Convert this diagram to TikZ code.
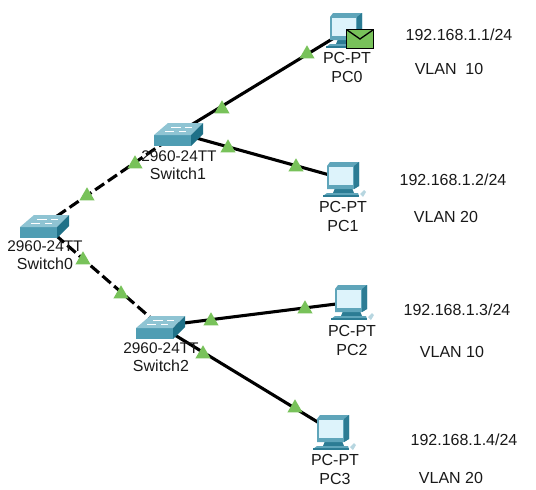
\documentclass[tikz,border=0pt]{standalone}
\usepackage{fontspec}
\setmainfont{Liberation Sans}
\usetikzlibrary{shapes.geometric}

\definecolor{swfront}{HTML}{4F9DB3}
\definecolor{swtop}{HTML}{8FC4D3}
\definecolor{swside}{HTML}{1F7188}
\definecolor{pcbody}{HTML}{5FA5BA}
\definecolor{pcdark}{HTML}{2C7C94}
\definecolor{pcscreen}{HTML}{DDF3FB}
\definecolor{activegreen}{HTML}{78C25A}

\tikzset{
	pics/switchicon/.style={code={
		\fill [swfront] (-24,2) -- (13,2) -- (13,13) -- (-24,13) -- cycle;
		\fill [swtop] (-24,2) -- (-10,-10) -- (25,-10) -- (13,2) -- cycle;
		\fill [swside] (13,2) -- (25,-10) -- (25,1) -- (13,13) -- cycle;
		\draw [white,line width=0.7pt] (-7,-6) -- (3,-6) (7,-6) -- (14,-6) (-13,-2) -- (-4,-2) (1,-2) -- (8,-2);
	}},
	pics/pcicon/.style={code={
		\fill [pcdark] (-9,9) -- (8,9) -- (10,14) -- (-11,14) -- cycle;
		\fill [pcbody] (-17,14) -- (14,14) -- (15,17) -- (-21,17) -- cycle;
		\fill [pcdark] (-21,16) rectangle (15,18);
		\fill [pcbody] (-17,-13) -- (-14,-17) -- (15,-17) -- (15,7) -- (10,10) -- (-17,10) -- cycle;
		\fill [pcscreen] (-15,-12) -- (9,-12) -- (9,6) -- (-15,6) -- cycle;
		\fill [pcdark] (10,-13) -- (15,-17) -- (15,7) -- (10,10) -- cycle;
		\fill [pcbody!45] (16,15) -- (20,11) -- (22,13) -- (19,18) -- cycle;
	}}
}

\begin{document}
\begin{tikzpicture}[x=1pt,y=-1pt,every node/.style={outer sep=0pt,inner sep=0pt}]

	\tikzstyle{link}=[line width=3.1pt,black]
	\tikzstyle{trunk}=[link,dash pattern=on 11pt off 4.5pt]
	\tikzstyle{device}=[minimum size=0pt]
	\tikzstyle{status}=[draw=none,fill=activegreen,regular polygon,regular polygon sides=3,minimum size=17.5pt]
	\tikzstyle{label}=[font=\fontsize{16}{16}\selectfont,text=black!90]
	\tikzstyle{model}=[label,font=\fontsize{15.4}{16}\selectfont]

	\useasboundingbox (0,0) rectangle (536,490);

	\node (switch0) at (44,225) [device] {};
	\node (switch1) at (178,133) [device] {};
	\node (switch2) at (160,326) [device] {};
	\node (pc0) at (347,30) [device] {};
	\node (pc1) at (344,179) [device] {};
	\node (pc2) at (352,302) [device] {};
	\node (pc3) at (334,432) [device] {};

	% links
	\draw [trunk] (switch0.center) -- (switch1.center);
	\draw [trunk] (switch0.center) -- (switch2.center);
	\draw [link] (switch1.center) -- (pc0.center);
	\draw [link] (switch1.center) -- (pc1.center);
	\draw [link] (switch2.center) -- (pc2.center);
	\draw [link] (switch2.center) -- (pc3.center);

	% icons
	\pic at (switch0) {switchicon};
	\pic at (switch1) {switchicon};
	\pic at (switch2) {switchicon};
	\pic at (pc0) {pcicon};
	\pic at (pc1) {pcicon};
	\pic at (pc2) {pcicon};
	\pic at (pc3) {pcicon};

	% envelope
	\node (mail) at (360,39) [draw=black,fill=activegreen,line width=1.3pt,minimum width=26.5pt,minimum height=18.5pt] {};
	\draw [black,line width=1.3pt] (mail.north west) -- (mail.center) -- (mail.north east);

	% status
	\node (st0) at (307,54) [status] {};
	\node (st1) at (222,109) [status] {};
	\node (st2) at (135,164) [status] {};
	\node (st3) at (87,196) [status] {};
	\node (st4) at (228,148) [status] {};
	\node (st5) at (296,167) [status] {};
	\node (st6) at (83,260) [status] {};
	\node (st7) at (121,294) [status] {};
	\node (st8) at (211,321) [status] {};
	\node (st9) at (305,309) [status] {};
	\node (st10) at (203,354) [status] {};
	\node (st11) at (295,408) [status] {};

	% device labels
	\node (model0) at (45,246) [model] {2960-24TT};
	\node (name0) at (45,264) [label] {Switch0};
	\node (model1) at (179,156) [model] {2960-24TT};
	\node (name1) at (178,174) [label] {Switch1};
	\node (model2) at (161,348) [model] {2960-24TT};
	\node (name2) at (161,366) [label] {Switch2};
	\node (type0) at (347,58) [label] {PC-PT};
	\node (host0) at (347,77) [label] {PC0};
	\node (type1) at (343,207) [label] {PC-PT};
	\node (host1) at (343,226) [label] {PC1};
	\node (type2) at (352,331) [label] {PC-PT};
	\node (host2) at (352,350) [label] {PC2};
	\node (type3) at (335,460) [label] {PC-PT};
	\node (host3) at (335,479) [label] {PC3};

	% addresses
	\node (ip0) at (459,35) [label] {192.168.1.1/24};
	\node (vlan0) at (449,69) [label] {VLAN\ \ 10};
	\node (ip1) at (453,180) [label] {192.168.1.2/24};
	\node (vlan1) at (446,217) [label] {VLAN 20};
	\node (ip2) at (457,310) [label] {192.168.1.3/24};
	\node (vlan2) at (452,352) [label] {VLAN 10};
	\node (ip3) at (464,440) [label] {192.168.1.4/24};
	\node (vlan3) at (451,478) [label] {VLAN 20};

\end{tikzpicture}
\end{document}
